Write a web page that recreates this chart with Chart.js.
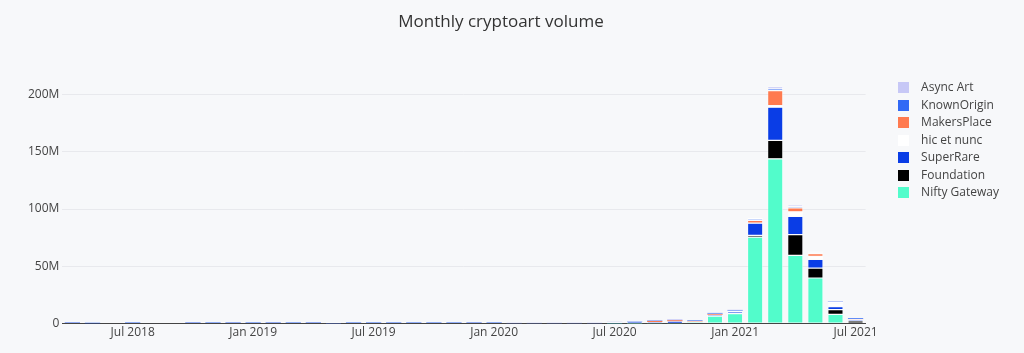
<!DOCTYPE html>
<html>
<head>
<meta charset="utf-8">
<title>Monthly cryptoart volume</title>
<script src="https://cdn.jsdelivr.net/npm/chart.js@4/dist/chart.umd.min.js"></script>
<style>
  html, body { margin: 0; padding: 0; background: #f7f8fa; }
  canvas { display: block; }
</style>
</head>
<body>
<canvas id="volume-chart" width="1024" height="353"></canvas>
<script>
// months shown on the x axis (one bar each)
const months = [
  'Apr 2018', 'May 2018', 'Jun 2018', 'Jul 2018', 'Aug 2018', 'Sep 2018', 'Oct 2018', 'Nov 2018', 'Dec 2018',
  'Jan 2019', 'Feb 2019', 'Mar 2019', 'Apr 2019', 'May 2019', 'Jun 2019', 'Jul 2019', 'Aug 2019', 'Sep 2019',
  'Oct 2019', 'Nov 2019', 'Dec 2019', 'Jan 2020', 'Feb 2020', 'Mar 2020', 'Apr 2020', 'May 2020', 'Jun 2020',
  'Jul 2020', 'Aug 2020', 'Sep 2020', 'Oct 2020', 'Nov 2020', 'Dec 2020', 'Jan 2021', 'Feb 2021', 'Mar 2021',
  'Apr 2021', 'May 2021', 'Jun 2021', 'Jul 2021'
];

// volumes in millions of USD
const niftyGateway = [0, 0, 0, 0, 0, 0, 0, 0, 0, 0, 0, 0, 0, 0, 0, 0, 0, 0, 0, 0, 0, 0, 0, 0, 0, 0, 0,
  0.1, 0.1, 0.2, 0.3, 0.8, 6.6, 8.7, 75.5, 143.9, 59.6, 39.8, 8.1, 0.5];
const foundation = [0, 0, 0, 0, 0, 0, 0, 0, 0, 0, 0, 0, 0, 0, 0, 0, 0, 0, 0, 0, 0, 0, 0, 0, 0, 0, 0,
  0, 0, 0, 0, 0, 0, 0, 1.5, 16, 18, 8.7, 4.1, 1.8];
const superRare = [0.8, 0.4, 0, 0.6, 0, 0, 0.7, 0.6, 0.7, 0.6, 0.7, 0.6, 0.7, 0.1, 0.6, 0.6, 0.5, 0.5, 0.6, 0.6, 0.7, 0.6,
  0.2, 0.2, 0.2, 0.2, 0.2, 0.2, 1.4, 1.2, 1.8, 1.0, 1.2, 1.5, 10.7, 29, 16, 7.6, 2.6, 1.4];
const hicEtNunc = [0, 0, 0, 0, 0, 0, 0, 0, 0, 0, 0, 0, 0, 0, 0, 0, 0, 0, 0, 0, 0, 0, 0, 0, 0, 0, 0,
  0, 0, 0, 0, 0, 0, 0, 0, 1.5, 4, 2.6, 3, 0.2];
const makersPlace = [0, 0, 0, 0, 0, 0, 0, 0, 0, 0, 0, 0, 0, 0.9, 0, 0, 0, 0, 0, 0, 0, 0, 0, 0, 0, 0, 0,
  0.9, 0, 0.8, 0.8, 0.5, 0.6, 1.0, 2.5, 13, 3.5, 2.3, 1.0, 0.1];
const knownOrigin = [0.1, 0.4, 0, 0.3, 0, 0, 0.2, 0.3, 0.2, 0.3, 0.2, 0.3, 0.2, 0, 0.3, 0.3, 0.4, 0.4, 0.3, 0.3, 0.2, 0.3,
  0.1, 0.1, 0.1, 0.1, 0.1, 0, 0.2, 0.3, 0.3, 0.3, 0.5, 0.4, 1.2, 1.5, 1.2, 1.0, 0.3, 0.6];
const asyncArt = [0, 0, 0, 0, 0, 0, 0, 0, 0, 0, 0, 0, 0, 0, 0, 0, 0, 0, 0, 0, 0, 0,
  0.5, 0.5, 0.5, 0.5, 0.5, 0.4, 0.1, 0.6, 0.6, 0.5, 0.5, 0.6, 1.0, 2.0, 1.5, 1.0, 0.3, 0.1];

// y axis ticks
const yTicks = [0, 50, 100, 150, 200];

const textColor = '#444';
const fontFamily = '"Open Sans", "DejaVu Sans", sans-serif';

// thin white outline like the original, skipped on the tiny slivers
function outline(ctx) {
  const v = ctx.raw;
  return v > 0.8 ? 0.6 : 0;
}

function series(label, data, color) {
  return {
    label: label,
    data: data,
    backgroundColor: color,
    borderColor: '#ffffff',
    borderWidth: outline,
    borderSkipped: false,
    categoryPercentage: 1,
    barPercentage: 0.76,
  };
}

// small square swatch for the legend
function swatch(color) {
  const c = document.createElement('canvas');
  c.width = 11; c.height = 11;
  const g = c.getContext('2d');
  g.fillStyle = color;
  g.fillRect(0, 0, 11, 11);
  return c;
}

// nudge legend and title to where the original has them
const nudge = {
  id: 'nudge',
  afterLayout(chart) {
    const l = chart.legend;
    l.left += 20; l.right += 20;
    l.top += 2.5; l.bottom += 2.5;
    const t = chart.titleBlock;
    t.left -= 6; t.right -= 6;
  }
};

new Chart(document.getElementById('volume-chart'), {
  type: 'bar',
  data: {
    labels: months,
    datasets: [
      series('Nifty Gateway', niftyGateway, '#52fccb'),
      series('Foundation', foundation, '#000000'),
      series('SuperRare', superRare, '#0a3de6'),
      series('hic et nunc', hicEtNunc, '#ffffff'),
      series('MakersPlace', makersPlace, '#ff7a4f'),
      series('KnownOrigin', knownOrigin, '#3169f5'),
      series('Async Art', asyncArt, '#c7c8f6'),
    ],
  },
  plugins: [nudge],
  options: {
    responsive: false,
    animation: false,
    layout: { padding: { left: 25, right: 35, top: 0, bottom: 11 } },
    plugins: {
      tooltip: { enabled: false },
      title: {
        display: true,
        text: 'Monthly cryptoart volume',
        color: '#333',
        font: { family: fontFamily, size: 17, weight: 'normal' },
        padding: { top: 12, bottom: 41.5 },
      },
      legend: {
        position: 'right',
        align: 'start',
        fullSize: false,
        reverse: true,
        labels: {
          color: textColor,
          font: { family: fontFamily, size: 12 },
          usePointStyle: true,
          pointStyleWidth: 24,
          boxHeight: 12,
          padding: 5.5,
          generateLabels(chart) {
            const items = Chart.defaults.plugins.legend.labels.generateLabels(chart);
            items.forEach(it => { it.pointStyle = swatch(it.fillStyle); });
            return items;
          },
        },
      },
    },
    scales: {
      x: {
        stacked: true,
        grid: { display: false, drawTicks: false },
        border: { display: true, color: '#444', width: 1 },
        ticks: {
          autoSkip: false,
          maxRotation: 0,
          padding: 2,
          color: textColor,
          font: { family: fontFamily, size: 12 },
          callback: function (value, index) {
            const m = months[index];
            return (m.startsWith('Jan') || m.startsWith('Jul')) ? m : '';
          },
        },
      },
      y: {
        stacked: true,
        min: yTicks[0],
        max: 218,
        border: { display: false },
        grid: { color: '#e8e9ed', drawTicks: false },
        afterBuildTicks: function (axis) {
          axis.ticks = yTicks.map(v => ({ value: v }));
        },
        ticks: {
          padding: 3,
          color: textColor,
          font: { family: fontFamily, size: 12 },
          callback: v => v === 0 ? '0' : v + 'M',
        },
      },
    },
  },
});
</script>
</body>
</html>
